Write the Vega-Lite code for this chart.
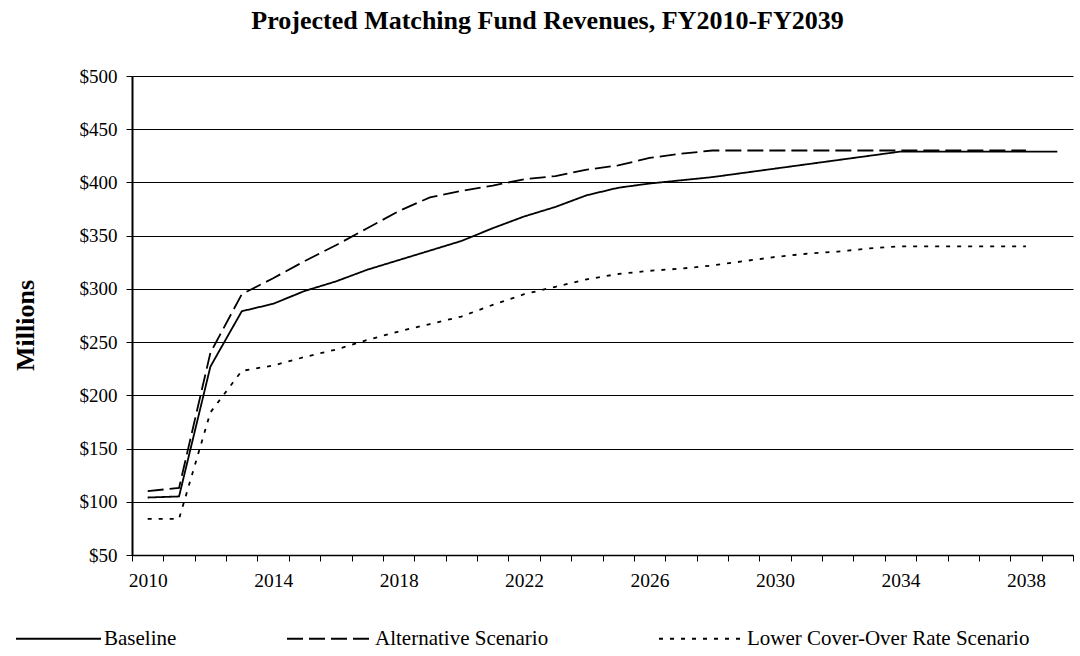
{
  "$schema": "https://vega.github.io/schema/vega-lite/v6.json",
  "width": 941,
  "height": 479,
  "autosize": {"type": "none"},
  "padding": {"left": 132, "top": 76, "right": 7, "bottom": 101},
  "background": "white",
  "config": {"view": {"stroke": null}},
  "title": {
    "text": "Projected Matching Fund Revenues, FY2010-FY2039",
    "font": "Liberation Serif",
    "fontSize": 26,
    "fontWeight": "bold",
    "color": "black",
    "anchor": "middle",
    "dx": -55,
    "offset": 33
  },
  "data": {
    "values": [
      {"year": 2010, "series": "Baseline", "value": 104},
      {"year": 2011, "series": "Baseline", "value": 105},
      {"year": 2012, "series": "Baseline", "value": 227},
      {"year": 2013, "series": "Baseline", "value": 279},
      {"year": 2014, "series": "Baseline", "value": 286},
      {"year": 2015, "series": "Baseline", "value": 298},
      {"year": 2016, "series": "Baseline", "value": 307},
      {"year": 2017, "series": "Baseline", "value": 318},
      {"year": 2018, "series": "Baseline", "value": 327},
      {"year": 2019, "series": "Baseline", "value": 336},
      {"year": 2020, "series": "Baseline", "value": 345},
      {"year": 2021, "series": "Baseline", "value": 357},
      {"year": 2022, "series": "Baseline", "value": 368},
      {"year": 2023, "series": "Baseline", "value": 377},
      {"year": 2024, "series": "Baseline", "value": 388},
      {"year": 2025, "series": "Baseline", "value": 395},
      {"year": 2026, "series": "Baseline", "value": 399},
      {"year": 2027, "series": "Baseline", "value": 402},
      {"year": 2028, "series": "Baseline", "value": 405},
      {"year": 2029, "series": "Baseline", "value": 409},
      {"year": 2030, "series": "Baseline", "value": 413},
      {"year": 2031, "series": "Baseline", "value": 417},
      {"year": 2032, "series": "Baseline", "value": 421},
      {"year": 2033, "series": "Baseline", "value": 425},
      {"year": 2034, "series": "Baseline", "value": 429},
      {"year": 2035, "series": "Baseline", "value": 429},
      {"year": 2036, "series": "Baseline", "value": 429},
      {"year": 2037, "series": "Baseline", "value": 429},
      {"year": 2038, "series": "Baseline", "value": 429},
      {"year": 2039, "series": "Baseline", "value": 429},
      {"year": 2010, "series": "Alternative Scenario", "value": 110},
      {"year": 2011, "series": "Alternative Scenario", "value": 113},
      {"year": 2012, "series": "Alternative Scenario", "value": 240},
      {"year": 2013, "series": "Alternative Scenario", "value": 295},
      {"year": 2014, "series": "Alternative Scenario", "value": 310},
      {"year": 2015, "series": "Alternative Scenario", "value": 326},
      {"year": 2016, "series": "Alternative Scenario", "value": 341},
      {"year": 2017, "series": "Alternative Scenario", "value": 357},
      {"year": 2018, "series": "Alternative Scenario", "value": 373},
      {"year": 2019, "series": "Alternative Scenario", "value": 386},
      {"year": 2020, "series": "Alternative Scenario", "value": 392},
      {"year": 2021, "series": "Alternative Scenario", "value": 397},
      {"year": 2022, "series": "Alternative Scenario", "value": 403},
      {"year": 2023, "series": "Alternative Scenario", "value": 406},
      {"year": 2024, "series": "Alternative Scenario", "value": 412},
      {"year": 2025, "series": "Alternative Scenario", "value": 416},
      {"year": 2026, "series": "Alternative Scenario", "value": 423},
      {"year": 2027, "series": "Alternative Scenario", "value": 427},
      {"year": 2028, "series": "Alternative Scenario", "value": 430},
      {"year": 2029, "series": "Alternative Scenario", "value": 430},
      {"year": 2030, "series": "Alternative Scenario", "value": 430},
      {"year": 2031, "series": "Alternative Scenario", "value": 430},
      {"year": 2032, "series": "Alternative Scenario", "value": 430},
      {"year": 2033, "series": "Alternative Scenario", "value": 430},
      {"year": 2034, "series": "Alternative Scenario", "value": 430},
      {"year": 2035, "series": "Alternative Scenario", "value": 430},
      {"year": 2036, "series": "Alternative Scenario", "value": 430},
      {"year": 2037, "series": "Alternative Scenario", "value": 430},
      {"year": 2038, "series": "Alternative Scenario", "value": 430},
      {"year": 2010, "series": "Lower Cover-Over Rate Scenario", "value": 84},
      {"year": 2011, "series": "Lower Cover-Over Rate Scenario", "value": 84},
      {"year": 2012, "series": "Lower Cover-Over Rate Scenario", "value": 184},
      {"year": 2013, "series": "Lower Cover-Over Rate Scenario", "value": 223},
      {"year": 2014, "series": "Lower Cover-Over Rate Scenario", "value": 228},
      {"year": 2015, "series": "Lower Cover-Over Rate Scenario", "value": 236},
      {"year": 2016, "series": "Lower Cover-Over Rate Scenario", "value": 243},
      {"year": 2017, "series": "Lower Cover-Over Rate Scenario", "value": 252},
      {"year": 2018, "series": "Lower Cover-Over Rate Scenario", "value": 260},
      {"year": 2019, "series": "Lower Cover-Over Rate Scenario", "value": 267},
      {"year": 2020, "series": "Lower Cover-Over Rate Scenario", "value": 274},
      {"year": 2021, "series": "Lower Cover-Over Rate Scenario", "value": 285},
      {"year": 2022, "series": "Lower Cover-Over Rate Scenario", "value": 295},
      {"year": 2023, "series": "Lower Cover-Over Rate Scenario", "value": 302},
      {"year": 2024, "series": "Lower Cover-Over Rate Scenario", "value": 309},
      {"year": 2025, "series": "Lower Cover-Over Rate Scenario", "value": 314},
      {"year": 2026, "series": "Lower Cover-Over Rate Scenario", "value": 317},
      {"year": 2027, "series": "Lower Cover-Over Rate Scenario", "value": 319},
      {"year": 2028, "series": "Lower Cover-Over Rate Scenario", "value": 322},
      {"year": 2029, "series": "Lower Cover-Over Rate Scenario", "value": 326},
      {"year": 2030, "series": "Lower Cover-Over Rate Scenario", "value": 330},
      {"year": 2031, "series": "Lower Cover-Over Rate Scenario", "value": 333},
      {"year": 2032, "series": "Lower Cover-Over Rate Scenario", "value": 335},
      {"year": 2033, "series": "Lower Cover-Over Rate Scenario", "value": 338},
      {"year": 2034, "series": "Lower Cover-Over Rate Scenario", "value": 340},
      {"year": 2035, "series": "Lower Cover-Over Rate Scenario", "value": 340},
      {"year": 2036, "series": "Lower Cover-Over Rate Scenario", "value": 340},
      {"year": 2037, "series": "Lower Cover-Over Rate Scenario", "value": 340},
      {"year": 2038, "series": "Lower Cover-Over Rate Scenario", "value": 340}
    ]
  },
  "mark": {"type": "line", "color": "black", "strokeWidth": 1.8, "strokeCap": "butt"},
  "encoding": {
    "x": {
      "field": "year",
      "type": "quantitative",
      "scale": {"domain": [2009.5, 2039.5], "nice": false, "zero": false},
      "axis": {
        "title": null,
        "values": [2009.5, 2010.5, 2011.5, 2012.5, 2013.5, 2014.5, 2015.5, 2016.5, 2017.5, 2018.5, 2019.5, 2020.5, 2021.5, 2022.5, 2023.5, 2024.5, 2025.5, 2026.5, 2027.5, 2028.5, 2029.5, 2030.5, 2031.5, 2032.5, 2033.5, 2034.5, 2035.5, 2036.5, 2037.5, 2038.5, 2039.5],
        "labelExpr": "(datum.value - 2009.5) % 4 == 0 ? '' + (datum.value + 0.5) : ''",
        "labelOffset": 15.7,
        "labelOverlap": false,
        "labelBound": false,
        "labelFlush": false,
        "grid": false,
        "tickSize": 6,
        "tickColor": "black",
        "tickWidth": 1,
        "domainColor": "black",
        "domainWidth": 1.5,
        "labelFont": "Liberation Serif",
        "labelFontSize": 19.5,
        "labelColor": "black",
        "labelPadding": 10
      }
    },
    "y": {
      "field": "value",
      "type": "quantitative",
      "scale": {"domain": [50, 500], "nice": false, "zero": false},
      "axis": {
        "title": "Millions",
        "values": [50, 100, 150, 200, 250, 300, 350, 400, 450, 500],
        "labelExpr": "'$' + datum.value",
        "grid": true,
        "gridColor": "black",
        "gridWidth": 1,
        "gridOpacity": 1,
        "tickSize": 6,
        "tickColor": "black",
        "domainColor": "black",
        "domainWidth": 2,
        "labelFont": "Liberation Serif",
        "labelFontSize": 19,
        "labelColor": "black",
        "labelPadding": 9,
        "titleFont": "Liberation Serif",
        "titleFontSize": 26,
        "titleFontWeight": "bold",
        "titleColor": "black",
        "titleAngle": -90,
        "titleX": -107,
        "titleY": 249,
        "titleAlign": "center",
        "titleBaseline": "middle"
      }
    },
    "strokeDash": {
      "field": "series",
      "type": "nominal",
      "sort": ["Baseline", "Alternative Scenario", "Lower Cover-Over Rate Scenario"],
      "scale": {
        "domain": ["Baseline", "Alternative Scenario", "Lower Cover-Over Rate Scenario"],
        "range": [[1, 0], [16, 6], [4, 7]]
      },
      "legend": {
        "title": null,
        "orient": "none",
        "direction": "horizontal",
        "legendX": -117,
        "legendY": 519,
        "symbolType": "stroke",
        "symbolSize": 7225,
        "symbolStrokeColor": "black",
        "symbolStrokeWidth": 2,
        "labelFont": "Liberation Serif",
        "labelFontSize": 21,
        "labelColor": "black",
        "labelOffset": 2,
        "columnPadding": 106,
        "labelLimit": 400
      }
    }
  }
}
